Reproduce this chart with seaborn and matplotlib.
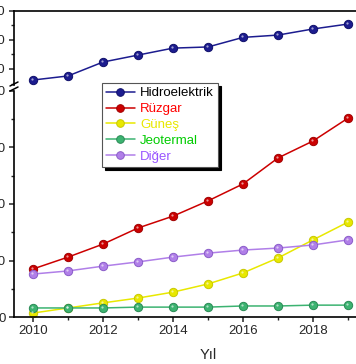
import matplotlib
matplotlib.use("Agg")
from matplotlib import pyplot as plt
from matplotlib.lines import Line2D
from matplotlib.ticker import MultipleLocator
import matplotlib.transforms as mtransforms
import pandas as pd
import seaborn as sns

# **************************************************************************

years = [2010, 2011, 2012, 2013, 2014, 2015, 2016, 2017, 2018, 2019]

hidroelektrik = [962, 976, 1024, 1048, 1072, 1076, 1109, 1117, 1138, 1155]
ruzgar = [170, 212, 258, 315, 357, 411, 471, 563, 623, 704]
gunes = [14, 32, 50, 67, 88, 117, 156, 209, 273, 336]
jeotermal = [32, 32, 32, 35, 35, 35, 39, 39, 42, 42]
diger = [152, 163, 180, 195, 212, 226, 237, 244, 255, 273]

series_names = ['Hidroelektrik', 'Rüzgar', 'Güneş', 'Jeotermal', 'Diğer']
line_colors = ['#1c1c8f', '#cc0000', '#e8e800', '#3cb371', '#b07fe8']
edge_colors = ['#10106a', '#a00000', '#c8c800', '#2a8a55', '#8a5cc8']
text_colors = ['black', '#ff0000', '#e8e800', '#00cc00', '#9955ff']

# **************************************************************************

sns.set_style('ticks')
plt.rcParams['font.family'] = ['Liberation Sans', 'DejaVu Sans']

df = pd.DataFrame({
    'Yıl': years * 5,
    'Değer': hidroelektrik + ruzgar + gunes + jeotermal + diger,
    'Kaynak': sum([[n] * len(years) for n in series_names], []),
})

W, H = 356, 364
fig = plt.figure(figsize=(W / 100, H / 100), dpi=100)

px_per_year = 35
x_left = 2010 - 19 / px_per_year
x_right = 2020 + 19 / px_per_year
ax_w = (x_right - x_left) * px_per_year

ax_top = fig.add_axes([14 / W, (H - 85) / H, ax_w / W, 74 / H])
ax_bot = fig.add_axes([14 / W, (H - 317) / H, ax_w / W, 226 / H])

palette = dict(zip(series_names, line_colors))
edges = dict(zip(line_colors, edge_colors))

for ax in (ax_top, ax_bot):
    sns.lineplot(data=df, x='Yıl', y='Değer', hue='Kaynak', palette=palette,
                 marker='o', markersize=6, markeredgewidth=0.7, linewidth=1.1,
                 legend=False, ax=ax)
    # darker marker edges and a small highlight to mimic the ball markers
    for line in ax.get_lines():
        c = matplotlib.colors.to_hex(line.get_color())
        line.set_markeredgecolor(edges.get(c, c))
    highlight = ax.transData + mtransforms.ScaledTranslation(-1.0 / 100, 1.0 / 100, fig.dpi_scale_trans)
    for name in series_names:
        sub = df[df['Kaynak'] == name]
        ax.plot(sub['Yıl'], sub['Değer'], linestyle='none', marker='o', markersize=1.6,
                markeredgewidth=0, color='white', alpha=0.6, transform=highlight, zorder=5)
    ax.set_xlim(x_left, x_right)
    ax.set_xlabel('')
    ax.set_ylabel('')
    for s in ('left', 'bottom', 'top', 'right'):
        ax.spines[s].set_linewidth(1.2)
        ax.spines[s].set_color('black')

ax_top.set_ylim(1200 - 74 / 29 * 100, 1200)
ax_top.yaxis.set_major_locator(MultipleLocator(100))
ax_top.yaxis.set_minor_locator(MultipleLocator(50))
ax_top.spines['bottom'].set_visible(False)
ax_top.tick_params(axis='x', which='both', bottom=False, labelbottom=False)

ax_bot.set_ylim(0, 800)
ax_bot.yaxis.set_major_locator(MultipleLocator(200))
ax_bot.yaxis.set_minor_locator(MultipleLocator(100))
ax_bot.spines['top'].set_visible(False)
ax_bot.xaxis.set_major_locator(MultipleLocator(2))
ax_bot.xaxis.set_minor_locator(MultipleLocator(1))
ax_bot.set_xlabel('Yıl', fontsize=10.5, labelpad=8)

for ax in (ax_top, ax_bot):
    ax.tick_params(which='major', direction='out', length=3.5, width=1.1,
                   labelsize=9.5, pad=2.5)
    ax.tick_params(which='minor', direction='out', length=2.2, width=1.0)
    ax.tick_params(axis='y', which='both', right=False)
    ax.tick_params(axis='x', which='both', top=False)

# break marks on left axis
for yy in (83, 88):
    fig.add_artist(Line2D([10 / W, 18 / W], [(H - yy - 3) / H, (H - yy + 1) / H],
                          color='black', linewidth=1.1))

handles = [Line2D([0], [0], color=c, marker='o', markersize=5.5, linewidth=1.1,
                  markeredgecolor=e, markeredgewidth=0.7)
           for c, e in zip(line_colors, edge_colors)]
leg = fig.legend(handles, series_names, loc='upper left',
                 bbox_to_anchor=(102 / W, (H - 83) / H), fontsize=9.5,
                 frameon=True, fancybox=False, shadow={'color': 'black', 'alpha': 1},
                 handlelength=2.2, handletextpad=0.4, labelspacing=0.28,
                 borderpad=0.3, borderaxespad=0)
leg.get_frame().set_edgecolor('#555555')
leg.get_frame().set_linewidth(0.8)
for txt, c in zip(leg.get_texts(), text_colors):
    txt.set_color(c)

fig.savefig('out.png', dpi=100)
